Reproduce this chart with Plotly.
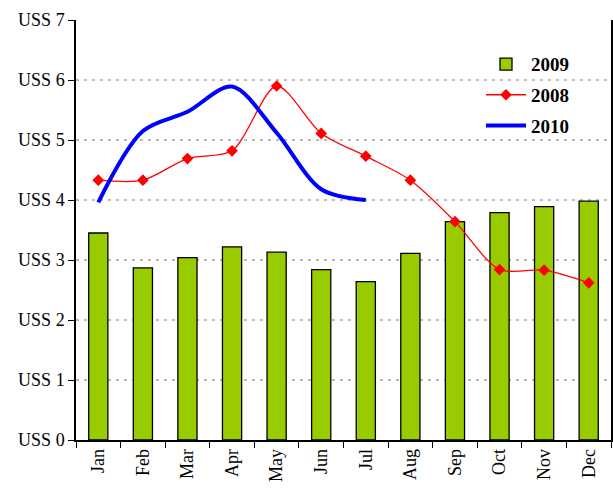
import plotly.graph_objects as go

months = ["Jan", "Feb", "Mar", "Apr", "May", "Jun", "Jul", "Aug", "Sep", "Oct", "Nov", "Dec"]
v2009 = [3.45, 2.87, 3.04, 3.22, 3.13, 2.84, 2.64, 3.11, 3.64, 3.79, 3.89, 3.98]
v2008 = [4.33, 4.33, 4.69, 4.82, 5.90, 5.11, 4.73, 4.33, 3.64, 2.84, 2.83, 2.62]
v2010 = [3.96, 5.15, 5.47, 5.89, 5.12, 4.18, 4.00]
months_2010 = months[:len(v2010)]
y_ticks = [0, 1, 2, 3, 4, 5, 6, 7]
y_ticktext = ["USS " + str(t) for t in y_ticks]

serif = "Liberation Serif, Times New Roman, serif"

fig = go.Figure()
fig.add_trace(go.Bar(
    x=months, y=v2009, name="2009", legendgroup="a",
    marker=dict(color="#99CC00", line=dict(color="black", width=1.3)),
    width=0.43,
))
fig.add_trace(go.Scatter(
    x=months, y=v2008, name="2008", mode="lines+markers", legendgroup="b",
    line=dict(color="#FF0000", width=1.3, shape="spline", smoothing=0.8),
    marker=dict(symbol="diamond", size=9, color="#FF0000"),
))
fig.add_trace(go.Scatter(
    x=months_2010, y=v2010, name="2010", mode="lines", legendgroup="c",
    line=dict(color="#0000FF", width=4, shape="spline", smoothing=0.9),
))

fig.update_layout(
    width=613, height=490,
    margin=dict(l=76, r=2, t=20, b=50, autoexpand=False),
    plot_bgcolor="white", paper_bgcolor="white",
    font=dict(family=serif, color="black"),
    showlegend=True,
    legend=dict(
        x=0.757, y=0.94, xanchor="left", yanchor="top",
        bgcolor="rgba(0,0,0,0)",
        font=dict(family=serif, size=19, color="black", weight="bold"),
        tracegroupgap=3, itemwidth=40,
    ),
)
fig.update_xaxes(
    type="category", categoryorder="array", categoryarray=months,
    range=[-0.5, 11.5], automargin=False,
    showline=True, linecolor="black", linewidth=1.5,
    ticks="outside", ticklen=6, tickcolor="black", tickwidth=1.3,
    tickson="boundaries", tickangle=-90,
    tickfont=dict(family=serif, size=18, color="black"),
    showgrid=False,
)
fig.update_yaxes(
    range=[0, 7], tickvals=y_ticks, ticktext=y_ticktext, automargin=False,
    showline=True, linecolor="black", linewidth=1.5, mirror=True,
    ticks="outside", ticklen=6, tickcolor="black", tickwidth=1.3,
    tickfont=dict(family=serif, size=18, color="black"),
    showgrid=True, gridcolor="#BBBBBB", gridwidth=2, griddash="3px,5px",
    zeroline=False,
)

fig.write_html("out.html", config={"displayModeBar": False},
               post_script="document.body.style.margin='0';")
